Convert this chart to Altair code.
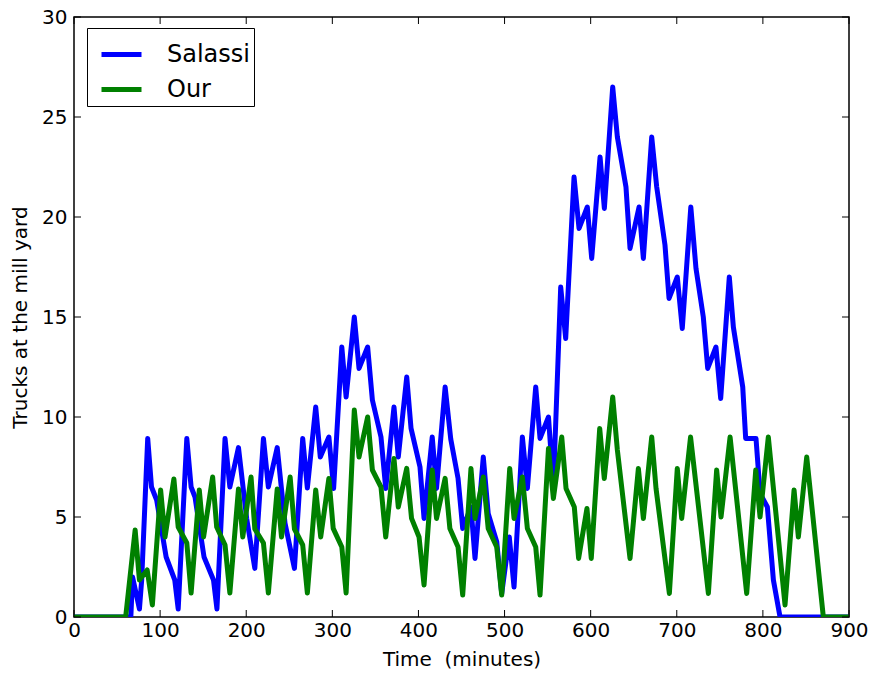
import altair as alt
import pandas as pd

series_names = ["Salassi", "Our"]
series_colors = ["#0000ff", "#008000"]

x_ticks = [0, 100, 200, 300, 400, 500, 600, 700, 800, 900]
y_ticks = [0, 5, 10, 15, 20, 25, 30]

blue_t = [0, 66, 68, 76, 78.6, 85.6, 90, 96, 107, 117, 121, 131, 136, 140.5, 151, 162, 166,
          175.4, 181, 191, 200.5, 210, 220, 225.7, 236, 245, 256, 265.6, 271, 280.7, 286, 296,
          301.5, 311, 316, 325.5, 331, 341, 346.5, 356.5, 362, 371.6, 376.6, 386.4, 391.4, 401.8,
          406.5, 416, 421, 431, 437.5, 446, 451.4, 461, 465.7, 475.3, 481, 490.9, 496.7, 505.5,
          511, 520.7, 526.5, 536.2, 541.2, 551, 556.7, 565.2, 571, 580.7, 586.5, 596.1, 601.2,
          610.9, 615.9, 625.6, 631, 641, 645.7, 656.2, 661.2, 670.9, 676.7, 686.3, 691, 700.6,
          706.4, 716.3, 722.3, 730.8, 735.9, 745.5, 751, 761, 765.7, 776.6, 780, 792, 796.7,
          805.2, 812.2, 819.9, 900]
blue_v = [0, 0, 2.0, 0.4, 1.85, 8.93, 6.5, 5.85, 3.0, 1.85, 0.4, 8.93, 6.5, 6.0, 3.0, 1.85, 0.4,
          8.93, 6.5, 8.47, 4.93, 2.43, 8.93, 6.5, 8.47, 4.7, 2.43, 8.93, 6.45, 10.5, 8.0, 9.0,
          6.43, 13.5, 11.0, 15.0, 12.43, 13.5, 10.85, 9.0, 6.43, 10.5, 8.0, 12.0, 9.43, 7.5,
          4.93, 9.0, 6.43, 11.5, 8.9, 6.93, 4.43, 5.5, 2.93, 8.0, 5.18, 3.77, 1.18, 4.0,
          1.5, 9.0, 6.43, 11.5, 8.93, 10.0, 6.5, 16.5, 13.93, 22.0, 19.43, 20.5, 17.93,
          23.0, 20.43, 26.5, 24.0, 21.5, 18.43, 20.5, 17.93, 24.0, 21.5, 18.6, 15.93, 17.0,
          14.43, 20.5, 17.43, 15.0, 12.43, 13.5, 10.93, 17.0, 14.5, 11.5, 8.93, 8.93, 6.18,
          5.5, 1.85, 0, 0]

green_t = [0, 60, 71, 76, 85, 91, 100.6, 105.7, 116, 121, 131, 136, 145.5, 150.5, 161, 165.7,
           175.4, 181, 191, 196, 205.6, 210, 220, 225.7, 236, 241, 251, 256, 265.6, 271, 280.7,
           286.5, 296, 301, 311, 316, 325.5, 331, 341, 346.5, 356.5, 362, 371.6, 376.6, 386.4,
           392, 400.7, 406.5, 416, 421, 431, 436.5, 446, 451.4, 461, 465.7, 475.3, 481, 490.9,
           496.7, 506, 511, 520.7, 526.5, 536.2, 541.2, 551, 556.7, 566.4, 571.4, 581, 586,
           595.7, 600.7, 610.5, 615.8, 625.6, 631, 645.7, 655.4, 661.2, 670.9, 675.9, 691.4,
           700.6, 705.7, 716, 736.7, 746.3, 751.4, 761.9, 781.2, 791.7, 796.7, 806.3, 825.7,
           836.2, 841.2, 850.9, 870.2, 900]
green_v = [0, 0, 4.35, 1.85, 2.35, 0.6, 6.35, 4.0, 6.9, 4.5, 3.7, 1.2, 6.35, 4.0, 7.0, 4.5,
           3.6, 1.2, 6.4, 4.0, 7.0, 4.4, 3.7, 1.2, 6.4, 4.0, 7.0, 4.4, 3.6, 1.2, 6.35,
           4.0, 6.93, 4.43, 3.5, 1.2, 10.35, 8.0, 10.0, 7.35, 6.5, 4.0, 7.93, 5.5, 7.43,
           4.93, 4.0, 1.6, 7.35, 4.93, 6.93, 4.43, 3.5, 1.1, 7.43, 4.93, 7.0, 4.43, 3.5,
           1.1, 7.43, 4.93, 7.0, 4.43, 3.5, 1.1, 8.43, 5.93, 9.0, 6.43, 5.5, 2.93,
           5.43, 2.93, 9.43, 6.93, 11.0, 8.35, 2.93, 7.43, 4.93, 9.0, 6.43, 1.18,
           7.43, 4.93, 9.0, 1.18, 7.35, 5.0, 9.0, 1.18, 7.35, 5.0, 9.0, 0.6,
           6.35, 4.0, 8.0, 0, 0]

df_blue = pd.DataFrame({"t": blue_t, "v": blue_v, "s": series_names[0]})
df_green = pd.DataFrame({"t": green_t, "v": green_v, "s": series_names[1]})
df_xt = pd.DataFrame({"t": x_ticks})
df_yt = pd.DataFrame({"v": y_ticks})

FONT = "DejaVu Sans"

x_enc = alt.X("t:Q", scale=alt.Scale(domain=[0, 900], nice=False, zero=False),
              axis=alt.Axis(values=x_ticks, title="Time \u00a0(minutes)", format="d",
                            labelPadding=3, titlePadding=9, labelFlush=False,
                            labelOverlap=False))
y_enc = alt.Y("v:Q", scale=alt.Scale(domain=[0, 30], nice=False),
              axis=alt.Axis(values=y_ticks, title="Trucks at the mill yard", format="d",
                            labelPadding=7, titlePadding=11, labelFlush=False,
                            labelOverlap=False))
color_enc = alt.Color("s:N", title=None,
                      scale=alt.Scale(domain=series_names, range=series_colors),
                      legend=alt.Legend(orient="none", legendX=13, legendY=11,
                                        symbolType="stroke", symbolStrokeWidth=5,
                                        symbolSize=1600, symbolOffset=8,
                                        labelFontSize=24, labelFont=FONT,
                                        labelColor="black", labelOffset=23,
                                        strokeColor="black", fillColor="white",
                                        padding=4, rowPadding=0))

line_blue = alt.Chart(df_blue).mark_line(strokeWidth=5, clip=True, strokeJoin="round").encode(
    x=x_enc, y=y_enc, color=color_enc)
line_green = alt.Chart(df_green).mark_line(strokeWidth=5, clip=True, strokeJoin="round").encode(
    x="t:Q", y="v:Q", color="s:N")

tick_style = dict(color="black", strokeWidth=1)
xt_bottom = alt.Chart(df_xt).mark_rule(**tick_style).encode(
    x="t:Q", y=alt.value(600), y2=alt.value(593))
xt_top = alt.Chart(df_xt).mark_rule(**tick_style).encode(
    x="t:Q", y=alt.value(0), y2=alt.value(7))
yt_left = alt.Chart(df_yt).mark_rule(**tick_style).encode(
    y="v:Q", x=alt.value(0), x2=alt.value(7))
yt_right = alt.Chart(df_yt).mark_rule(**tick_style).encode(
    y="v:Q", x=alt.value(775), x2=alt.value(768))

chart = alt.layer(line_blue, line_green, xt_bottom, xt_top, yt_left, yt_right).properties(
    width=775, height=600,
    autosize=alt.AutoSizeParams(type="none"),
    padding={"left": 74, "top": 17, "right": 23, "bottom": 56},
    background="white",
).configure_axis(
    labelFont=FONT, labelFontSize=20, labelColor="black",
    titleFont=FONT, titleFontSize=20, titleFontWeight="normal", titleColor="black",
    domain=False, ticks=False, tickSize=0, grid=False,
).configure_view(stroke="black", strokeWidth=1.5)

chart.save("out.html", embed_options={"renderer": "svg", "actions": False})
